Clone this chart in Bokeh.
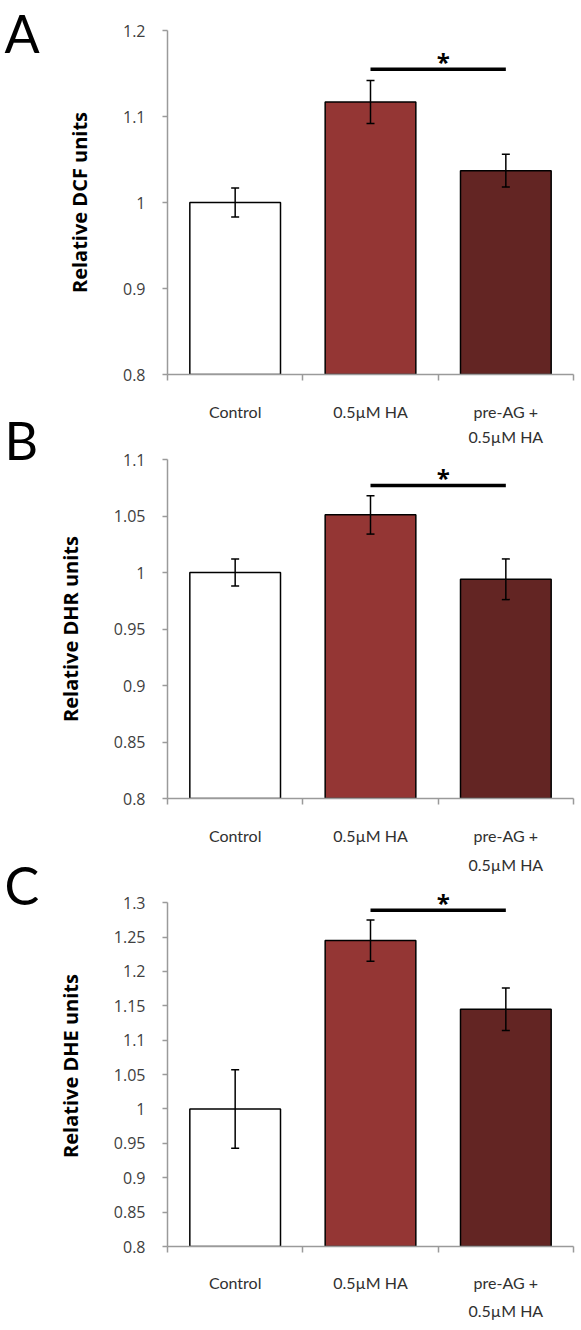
from bokeh.plotting import figure
from bokeh.layouts import row, column
from bokeh.models import (ColumnDataSource, Range1d, LinearAxis,
                          FixedTicker, NumeralTickFormatter,
                          Whisker, TeeHead, Label)
from bokeh.core.properties import value
from bokeh.embed import file_html
from bokeh.resources import INLINE

# ---------------- data ----------------
categories = ["Control", "0.5\u00b5M HA", "pre-AG + 0.5\u00b5M HA"]
labels_line1 = ["Control", "0.5\u00b5M HA", "pre-AG +"]
labels_line2 = ["", "", "0.5\u00b5M HA"]
bar_colors = ["#ffffff", "#943634", "#632523"]

dcf_mean = [1.000, 1.117, 1.037]
dcf_err = [0.017, 0.025, 0.019]
dcf_ticks = [0.8, 0.9, 1.0, 1.1, 1.2]
dcf_sig = 1.155

dhr_mean = [1.000, 1.051, 0.994]
dhr_err = [0.012, 0.017, 0.018]
dhr_ticks = [0.8, 0.85, 0.9, 0.95, 1.0, 1.05, 1.1]
dhr_sig = 1.077

dhe_mean = [1.000, 1.245, 1.145]
dhe_err = [0.057, 0.030, 0.031]
dhe_ticks = [0.8, 0.85, 0.9, 0.95, 1.0, 1.05, 1.1, 1.15, 1.2, 1.25, 1.3]
dhe_sig = 1.289

panel_letters = ["A", "B", "C"]

FONT = "Open Sans"
LFONT = "Lato"
AXIS_GREY = "#9a9a9a"
TICK_TEXT = "#404040"

n = len(categories)
x_pos = [i + 0.5 for i in range(n)]      # category centres on a 0..n axis
x_bounds = list(range(n + 1))            # category boundaries


def make_panel(mean, err, ticks, ylab, sig_y, fig_h, b_top, b_left, b_bottom,
               s1, s2, y_pad=0.0):
    src = ColumnDataSource(dict(
        x=x_pos, mean=mean,
        upper=[m + e for m, e in zip(mean, err)],
        lower=[m - e for m, e in zip(mean, err)],
        color=bar_colors))
    p = figure(x_range=Range1d(0, n), y_range=Range1d(ticks[0], ticks[-1] + y_pad),
               width=528, height=fig_h, output_backend="svg",
               toolbar_location=None, x_axis_location=None, y_axis_location=None,
               min_border_left=b_left, min_border_right=8,
               min_border_top=b_top, min_border_bottom=b_bottom)
    p.outline_line_color = None
    p.grid.visible = False

    p.vbar(x="x", top="mean", bottom=ticks[0], width=0.67, source=src,
           fill_color="color", line_color="black", line_width=1.5)

    w = Whisker(source=src, base="x", upper="upper", lower="lower",
                level="overlay", line_color="black", line_width=1.5,
                upper_head=TeeHead(size=8, line_color="black", line_width=1.5),
                lower_head=TeeHead(size=8, line_color="black", line_width=1.5))
    p.add_layout(w)

    # significance bar between HA and pre-AG
    p.segment(x0=[x_pos[1]], x1=[x_pos[2]], y0=[sig_y], y1=[sig_y],
              line_color="black", line_width=3.5)
    p.add_layout(Label(x=(x_pos[1] + x_pos[2]) / 2, y=sig_y, text="*",
                       x_offset=5, y_offset=8,
                       text_font=FONT, text_font_size="24px", text_font_style="bold",
                       text_align="center", text_baseline="alphabetic",
                       text_color="black"))

    # y axis
    yax = LinearAxis(ticker=FixedTicker(ticks=ticks),
                     formatter=NumeralTickFormatter(format="0.[00]"),
                     axis_label=ylab, bounds=(ticks[0], ticks[-1]))
    yax.axis_line_color = AXIS_GREY
    yax.axis_line_width = 1.5
    yax.major_tick_line_color = AXIS_GREY
    yax.major_tick_line_width = 1.5
    yax.major_tick_out = 5
    yax.major_tick_in = 0
    yax.minor_tick_line_color = None
    yax.major_label_standoff = 17
    yax.major_label_text_font = FONT
    yax.major_label_text_font_size = "16px"
    yax.major_label_text_color = TICK_TEXT
    yax.axis_label_text_font = FONT
    yax.axis_label_text_font_style = "bold"
    yax.axis_label_text_font_size = "20px"
    yax.axis_label_text_color = "black"
    yax.axis_label_standoff = 27
    p.add_layout(yax, "left")

    # x axis line with ticks between categories (no labels)
    bax = LinearAxis(ticker=FixedTicker(ticks=x_bounds),
                     major_label_overrides={t: "" for t in x_bounds})
    bax.axis_line_color = AXIS_GREY
    bax.axis_line_width = 1.5
    bax.major_tick_line_color = AXIS_GREY
    bax.major_tick_line_width = 1.5
    bax.major_tick_out = 6
    bax.major_tick_in = 0
    bax.minor_tick_line_color = None
    bax.major_label_text_font_size = "1px"
    bax.major_label_standoff = 0
    p.add_layout(bax, "below")

    # category labels (first and second line)
    for lines, standoff in ((labels_line1, s1), (labels_line2, s2)):
        cax = LinearAxis(ticker=FixedTicker(ticks=x_pos),
                         major_label_overrides=dict(zip(x_pos, lines)))
        cax.axis_line_color = None
        cax.major_tick_line_color = None
        cax.minor_tick_line_color = None
        cax.major_tick_out = 0
        cax.major_tick_in = 0
        cax.major_label_standoff = standoff
        cax.major_label_text_font = LFONT
        cax.major_label_text_font_size = "16px"
        cax.major_label_text_color = "#303030"
        p.add_layout(cax, "below")
    return p


pA = make_panel(dcf_mean, dcf_err, dcf_ticks, "Relative DCF units", dcf_sig,
                448, 30, 107, 74, 21, 3)
pB = make_panel(dhr_mean, dhr_err, dhr_ticks, "Relative DHR units", dhr_sig,
                430, 11, 110, 80, 21, 7)
pC = make_panel(dhe_mean, dhe_err, dhe_ticks, "Relative DHE units", dhe_sig,
                450, 7, 110, 82, 20, 6, y_pad=0.025)

# panel letters
LH = 448 + 430 + 450
pL = figure(width=53, height=LH, x_range=Range1d(0, 53), y_range=Range1d(LH, 0),
            output_backend="svg", toolbar_location=None,
            x_axis_location=None, y_axis_location=None,
            min_border_left=0, min_border_right=0, min_border_top=0, min_border_bottom=0)
pL.outline_line_color = None
pL.grid.visible = False
pL.text(x=[4, 4, 4], y=[32, 439, 884], text=panel_letters,
        text_font=value(LFONT), text_font_size="52px", text_baseline="alphabetic",
        text_align="left", text_color="black")

layout = row(pL, column(pA, pB, pC))
open("out.html", "w").write(file_html(layout, INLINE))
